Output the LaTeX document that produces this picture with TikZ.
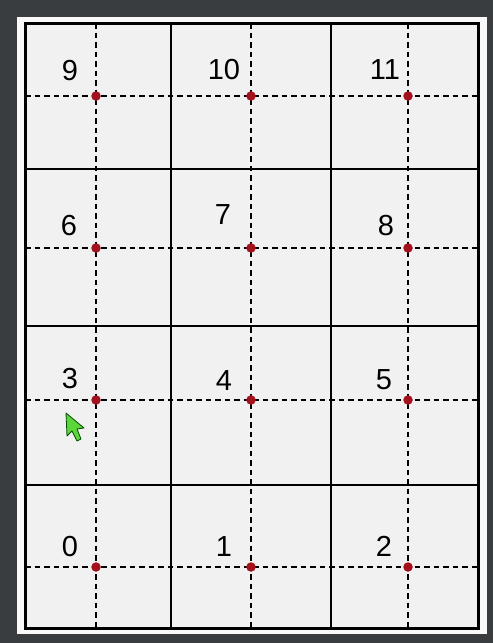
\documentclass[tikz,border=0pt]{standalone}
\usepackage{fontspec}
\setmainfont{Liberation Sans}
\definecolor{bgdark}{HTML}{3A3D40}
\definecolor{panel}{HTML}{F9F9F9}
\definecolor{cellbg}{HTML}{F1F1F1}
\definecolor{dotred}{HTML}{A3121C}
\definecolor{cursorgreen}{HTML}{5CD63A}
\begin{document}
\begin{tikzpicture}[x=1pt,y=-1pt,
  gridline/.style={line width=1.8pt,black},
  frameline/.style={line width=3pt,black},
  guide/.style={line width=1.6pt,black,dash pattern=on 5.5pt off 4pt},
  spot/.style={circle,fill=dotred,inner sep=0pt,minimum size=9.5pt},
  num/.style={font=\fontsize{29}{31}\selectfont,inner sep=0pt,text=black}]
\useasboundingbox (0,0) rectangle (493,643);
\fill[bgdark] (0,0) rectangle (493,643);
\fill[panel] (17,17) rectangle (487,634);
\fill[cellbg] (25,23) rectangle (478,628);
% solid grid
\draw[gridline] (171,23) -- (171,628);
\draw[gridline] (331,23) -- (331,628);
\draw[gridline] (25,169) -- (478,169);
\draw[gridline] (25,326) -- (478,326);
\draw[gridline] (25,485) -- (478,485);
% dashed guides
\foreach \x in {96,251,408} \draw[guide] (\x,23) -- (\x,628);
\foreach \y in {96,248,400,567} \draw[guide] (25,\y) -- (478,\y);
\draw[frameline] (25,23) rectangle (478,628);
% dots
\node[spot] (p9) at (96,96) {};
\node[spot] (p10) at (251,96) {};
\node[spot] (p11) at (408,96) {};
\node[spot] (p6) at (96,248) {};
\node[spot] (p7) at (251,248) {};
\node[spot] (p8) at (408,248) {};
\node[spot] (p3) at (96,400) {};
\node[spot] (p4) at (251,400) {};
\node[spot] (p5) at (408,400) {};
\node[spot] (p0) at (96,567) {};
\node[spot] (p1) at (251,567) {};
\node[spot] (p2) at (408,567) {};
% numbers
\node[num] (n9) at (70,71) {9};
\node[num] (n10) at (224,70) {10};
\node[num] (n11) at (385,70) {11};
\node[num] (n6) at (69,226) {6};
\node[num] (n7) at (223,215) {7};
\node[num] (n8) at (386,226) {8};
\node[num] (n3) at (70,379) {3};
\node[num] (n4) at (224,381) {4};
\node[num] (n5) at (384,380) {5};
\node[num] (n0) at (70,547) {0};
\node[num] (n1) at (224,547) {1};
\node[num] (n2) at (384,546) {2};
% cursor
\draw[fill=cursorgreen,draw=black!70!green,line width=0.8pt,line join=round]
  (66,413) -- (67,436) -- (72,431) -- (77,441) -- (81,439) -- (77,429) -- (84,428) -- cycle;
\end{tikzpicture}
\end{document}
